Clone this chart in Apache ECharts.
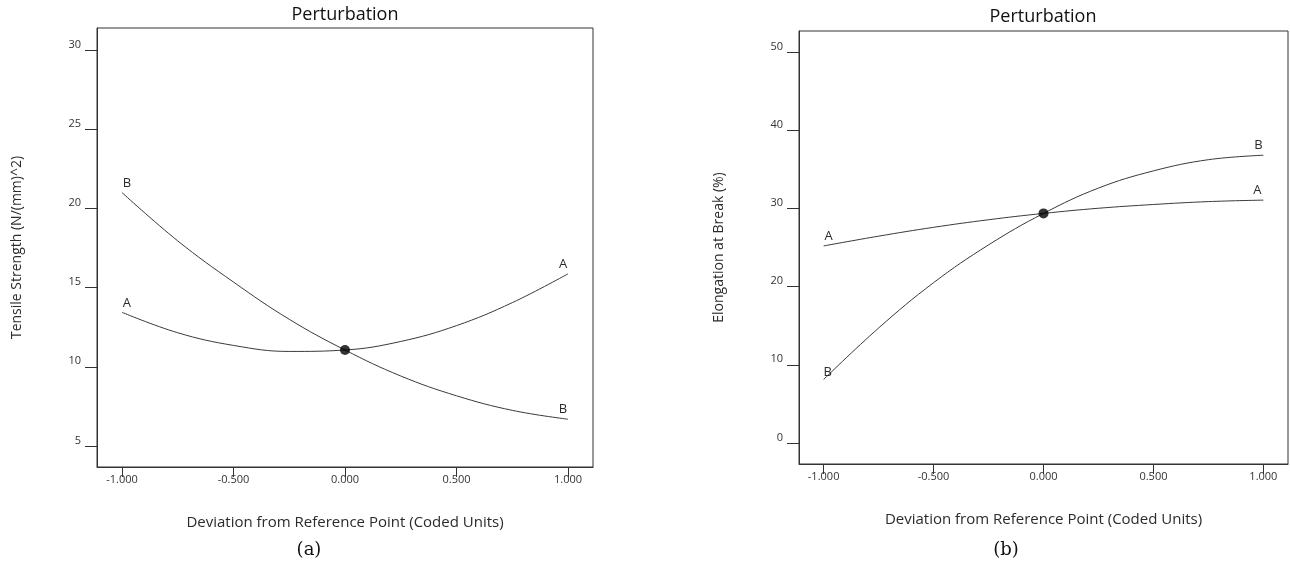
<!DOCTYPE html>
<html>
<head>
<meta charset="utf-8">
<script src="https://cdn.jsdelivr.net/npm/echarts@6/dist/echarts.min.js"></script>
<style>
  html, body { margin: 0; padding: 0; background: #fff; }
  #chart { width: 1290px; height: 566px; }
</style>
</head>
<body>
<div id="chart"></div>
<script>
// coded deviation from the reference point
const coded = [-1, -0.75, -0.5, -0.25, 0, 0.25, 0.5, 0.75, 1];

// (a) tensile strength, N/(mm)^2
const tensileA = [13.44, 12.15, 11.35, 10.97, 11.06, 11.6, 12.6, 14.05, 15.87];
const tensileB = [21.0, 17.95, 15.35, 13.0, 11.06, 9.42, 8.17, 7.25, 6.69];

// (b) elongation at break, %
const elongA = [25.2, 26.45, 27.58, 28.55, 29.36, 30.02, 30.5, 30.87, 31.06];
const elongB = [8.12, 14.7, 20.5, 25.33, 29.36, 32.6, 34.8, 36.23, 36.8];

// tick labels
const xTicks = [-1, -0.5, 0, 0.5, 1];
const tensileTicks = [5, 10, 15, 20, 25, 30];
const elongTicks = [0, 10, 20, 30, 40, 50];

const refIndex = 4; // the 0.000 point

const SANS = '"Open Sans", "Noto Sans", sans-serif';
const INK = '#2b2b2b';

const chart = echarts.init(document.getElementById('chart'));

// put "A"/"B" tags over the two ends of a curve
function taggedData(xs, ys, tag, startOff, endOff) {
  return xs.map((x, i) => {
    const item = { value: [x, ys[i]] };
    if (i === 0 || i === xs.length - 1) {
      item.label = {
        show: true,
        formatter: tag,
        position: 'top',
        distance: 3,
        offset: i === 0 ? startOff : endOff,
        color: INK,
        fontSize: 13,
        fontFamily: SANS
      };
    }
    return item;
  });
}

function curve(name, idx, data) {
  return {
    name: name,
    type: 'line',
    xAxisIndex: idx,
    yAxisIndex: idx,
    smooth: 0.4,
    showSymbol: true,
    symbol: 'circle',
    symbolSize: 0,
    data: data,
    lineStyle: { color: '#3a3a3a', width: 1 },
    itemStyle: { color: '#3a3a3a' },
    label: { show: false },
    emphasis: { disabled: true },
    z: 2
  };
}

function xAxisCfg(idx) {
  return {
    gridIndex: idx,
    type: 'value',
    min: -1.112,
    max: 1.112,
    name: 'Deviation from Reference Point (Coded Units)',
    nameLocation: 'middle',
    nameGap: 48,
    nameTextStyle: { color: INK, fontSize: 15, fontFamily: SANS },
    axisLine: { show: true, onZero: false, lineStyle: { color: '#333', width: 1 } },
    axisTick: { show: true, customValues: xTicks, length: 10, lineStyle: { color: '#333' } },
    axisLabel: {
      customValues: xTicks,
      formatter: v => v.toFixed(3),
      color: '#333',
      fontSize: 11,
      fontFamily: SANS,
      margin: 7
    },
    splitLine: { show: false }
  };
}

function yAxisCfg(idx, name, min, max, ticks) {
  return {
    gridIndex: idx,
    type: 'value',
    min: min,
    max: max,
    name: name,
    nameLocation: 'middle',
    nameGap: 73,
    nameTextStyle: { color: INK, fontSize: 14, fontFamily: SANS },
    axisLine: { show: true, onZero: false, lineStyle: { color: '#333', width: 1 } },
    axisTick: { show: true, customValues: ticks, length: 12, lineStyle: { color: '#333' } },
    axisLabel: {
      customValues: ticks,
      color: '#333',
      fontSize: 11,
      fontFamily: SANS,
      margin: 16,
      verticalAlign: 'bottom'
    },
    splitLine: { show: false }
  };
}

function caption(x, y, text, size, family) {
  return {
    type: 'text',
    x: x,
    y: y,
    style: {
      text: text,
      fill: '#111',
      font: size + 'px ' + family,
      align: 'center',
      verticalAlign: 'middle'
    }
  };
}

const option = {
  backgroundColor: '#fff',
  animation: false,
  grid: [
    { left: 97, top: 28, width: 496, height: 439, show: true, borderColor: '#333', borderWidth: 1 },
    { left: 799, top: 31, width: 489, height: 433, show: true, borderColor: '#333', borderWidth: 1 }
  ],
  xAxis: [xAxisCfg(0), xAxisCfg(1)],
  yAxis: [
    yAxisCfg(0, 'Tensile Strength (N/(mm)^2)', 3.674, 31.39, tensileTicks),
    yAxisCfg(1, 'Elongation at Break (%)', -2.69, 52.69, elongTicks)
  ],
  graphic: [
    caption(345, 15, 'Perturbation', 18, SANS),
    caption(1043, 17, 'Perturbation', 18, SANS),
    caption(309, 550, '(a)', 18, '"DejaVu Serif", "Liberation Serif", serif'),
    caption(1006, 550, '(b)', 18, '"DejaVu Serif", "Liberation Serif", serif')
  ],
  series: [
    curve('A', 0, taggedData(coded, tensileA, 'A', [5, 0], [-5, 0])),
    curve('B', 0, taggedData(coded, tensileB, 'B', [5, 0], [-5, 0])),
    {
      type: 'scatter', xAxisIndex: 0, yAxisIndex: 0,
      data: [[coded[refIndex], tensileA[refIndex]]],
      symbol: 'circle', symbolSize: 10,
      itemStyle: { color: '#000' }, z: 3
    },
    curve('A', 1, taggedData(coded, elongA, 'A', [5, 0], [-6, 0])),
    curve('B', 1, taggedData(coded, elongB, 'B', [4, 2], [-5, 0])),
    {
      type: 'scatter', xAxisIndex: 1, yAxisIndex: 1,
      data: [[coded[refIndex], elongA[refIndex]]],
      symbol: 'circle', symbolSize: 10,
      itemStyle: { color: '#000' }, z: 3
    }
  ]
};

chart.setOption(option);
</script>
</body>
</html>
